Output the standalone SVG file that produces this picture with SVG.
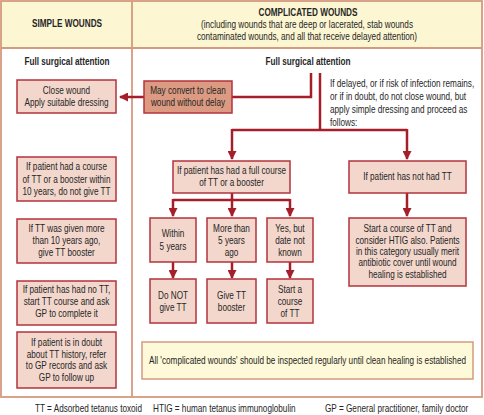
<svg xmlns="http://www.w3.org/2000/svg" width="484" height="415" viewBox="0 0 484 415">
<defs>
<marker id="ah" markerUnits="userSpaceOnUse" markerWidth="9" markerHeight="9" refX="8" refY="4.5" orient="auto">
<path d="M0,0 L9,4.5 L0,9 z" fill="#a51f2b"/>
</marker>
<style>
text{font-family:"Liberation Sans",Arial,sans-serif;font-size:10px;fill:#262626;text-anchor:middle}
.b{font-weight:bold}
.l{text-anchor:start}
.box{fill:#f3d7cc;stroke:#b3333d;stroke-width:1.5}
.dark{fill:#dc9a82;stroke:#b3333d;stroke-width:1.5}
.frame{fill:none;stroke:#d49a7e;stroke-width:1.8}
.note{fill:#fef9d8;stroke:#d49a7e;stroke-width:1.5}
.c{fill:none;stroke:#a51f2b;stroke-width:2.5}
</style>
</defs>
<rect x="0" y="0" width="484" height="415" fill="#fff"/>
<g id="frame">
<rect x="1" y="1" width="481" height="47" fill="#fcf6d2"/>
<rect class="frame" x="1" y="1" width="481" height="396"/>
<line class="frame" x1="1" y1="48" x2="482" y2="48"/>
<line class="frame" x1="132" y1="1" x2="132" y2="397"/>
</g>
<g id="header-simple"><text class="b" transform="translate(67 27) scale(.82 1)">SIMPLE WOUNDS</text></g>
<g id="header-complicated">
<text class="b" transform="translate(308 16) scale(.82 1)">COMPLICATED WOUNDS</text>
<text transform="translate(307 28) scale(.82 1)">(including wounds that are deep or lacerated, stab wounds</text>
<text transform="translate(307 40) scale(.82 1)">contaminated wounds, and all that receive delayed attention)</text>
</g>
<g id="connectors">
<path class="c" d="M311,73 V97 H120" marker-end="url(#ah)"/>
<path class="c" d="M320,73 V130"/>
<path class="c" d="M232,130 H407"/>
<path class="c" d="M232,129 V159" marker-end="url(#ah)"/>
<path class="c" d="M407,129 V159" marker-end="url(#ah)"/>
<path class="c" d="M232,193 V200"/>
<path class="c" d="M173,200 H290"/>
<path class="c" d="M173,199 V216" marker-end="url(#ah)"/>
<path class="c" d="M232,199 V216" marker-end="url(#ah)"/>
<path class="c" d="M290,199 V216" marker-end="url(#ah)"/>
<path class="c" d="M173,262 V278" marker-end="url(#ah)"/>
<path class="c" d="M232,262 V278" marker-end="url(#ah)"/>
<path class="c" d="M290,262 V278" marker-end="url(#ah)"/>
<path class="c" d="M407,193 V216" marker-end="url(#ah)"/>
</g>
<g id="simple-full"><text class="b" transform="translate(67 65) scale(.82 1)">Full surgical attention</text></g>
<g id="close-wound">
<rect class="box" x="17" y="80" width="99" height="33"/>
<text transform="translate(66.5 94) scale(.82 1)">Close wound</text>
<text transform="translate(66.5 106) scale(.82 1)">Apply suitable dressing</text>
</g>
<g id="simple-1">
<rect class="box" x="17" y="157" width="99" height="44"/>
<text transform="translate(66.5 170) scale(.82 1)">If patient had a course</text>
<text transform="translate(66.5 183) scale(.82 1)">of TT or a booster within</text>
<text transform="translate(66.5 195) scale(.82 1)">10 years, do not give TT</text>
</g>
<g id="simple-2">
<rect class="box" x="17" y="219" width="99" height="44"/>
<text transform="translate(66.5 232) scale(.82 1)">If TT was given more</text>
<text transform="translate(66.5 244) scale(.82 1)">than 10 years ago,</text>
<text transform="translate(66.5 256) scale(.82 1)">give TT booster</text>
</g>
<g id="simple-3">
<rect class="box" x="17" y="281" width="99" height="44"/>
<text transform="translate(66.5 293) scale(.82 1)">If patient has had no TT,</text>
<text transform="translate(66.5 305) scale(.82 1)">start TT course and ask</text>
<text transform="translate(66.5 317) scale(.82 1)">GP to complete it</text>
</g>
<g id="simple-4">
<rect class="box" x="17" y="332" width="99" height="56"/>
<text transform="translate(66.5 346) scale(.82 1)">If patient is in doubt</text>
<text transform="translate(66.5 358) scale(.82 1)">about TT history, refer</text>
<text transform="translate(66.5 369) scale(.82 1)">to GP records and ask</text>
<text transform="translate(66.5 381) scale(.82 1)">GP to follow up</text>
</g>
<g id="comp-full"><text class="b" transform="translate(308 65) scale(.82 1)">Full surgical attention</text></g>
<g id="delayed-note">
<text class="l" transform="translate(330 87) scale(.82 1)">If delayed, or if risk of infection remains,</text>
<text class="l" transform="translate(330 100) scale(.82 1)">or if in doubt, do not close wound, but</text>
<text class="l" transform="translate(330 113) scale(.82 1)">apply simple dressing and proceed as</text>
<text class="l" transform="translate(330 126) scale(.82 1)">follows:</text>
</g>
<g id="may-convert">
<rect class="dark" x="144" y="81" width="88" height="32"/>
<text transform="translate(188 94) scale(.82 1)">May convert to clean</text>
<text transform="translate(188 106) scale(.82 1)">wound without delay</text>
</g>
<g id="full-course">
<rect class="box" x="173" y="161" width="117" height="32"/>
<text transform="translate(231.5 174) scale(.82 1)">If patient has had a full course</text>
<text transform="translate(231.5 186) scale(.82 1)">of TT or a booster</text>
</g>
<g id="not-had">
<rect class="box" x="349" y="161" width="117" height="32"/>
<text transform="translate(407.5 180) scale(.82 1)">If patient has not had TT</text>
</g>
<g id="within5">
<rect class="box" x="150" y="218" width="46" height="44"/>
<text transform="translate(173 237) scale(.82 1)">Within</text>
<text transform="translate(173 250) scale(.82 1)">5 years</text>
</g>
<g id="more5">
<rect class="box" x="207" y="218" width="49" height="44"/>
<text transform="translate(231.5 232) scale(.82 1)">More than</text>
<text transform="translate(231.5 244) scale(.82 1)">5 years</text>
<text transform="translate(231.5 256) scale(.82 1)">ago</text>
</g>
<g id="unknown">
<rect class="box" x="267" y="218" width="46" height="44"/>
<text transform="translate(290 232) scale(.82 1)">Yes, but</text>
<text transform="translate(290 244) scale(.82 1)">date not</text>
<text transform="translate(290 256) scale(.82 1)">known</text>
</g>
<g id="start-htig">
<rect class="box" x="349" y="218" width="117" height="68"/>
<text transform="translate(407.5 232) scale(.82 1)">Start a course of TT and</text>
<text transform="translate(407.5 244) scale(.82 1)">consider HTIG also. Patients</text>
<text transform="translate(407.5 255) scale(.82 1)">in this category usually merit</text>
<text transform="translate(407.5 266) scale(.82 1)">antibiotic cover until wound</text>
<text transform="translate(407.5 278) scale(.82 1)">healing is established</text>
</g>
<g id="do-not">
<rect class="box" x="150" y="279" width="46" height="44"/>
<text transform="translate(173 299) scale(.82 1)">Do NOT</text>
<text transform="translate(173 311) scale(.82 1)">give TT</text>
</g>
<g id="give-booster">
<rect class="box" x="207" y="279" width="49" height="44"/>
<text transform="translate(231.5 299) scale(.82 1)">Give TT</text>
<text transform="translate(231.5 311) scale(.82 1)">booster</text>
</g>
<g id="start-course">
<rect class="box" x="267" y="279" width="46" height="44"/>
<text transform="translate(290 293) scale(.82 1)">Start a</text>
<text transform="translate(290 305) scale(.82 1)">course</text>
<text transform="translate(290 317) scale(.82 1)">of TT</text>
</g>
<g id="inspect">
<rect class="note" x="142" y="342" width="331" height="37"/>
<text transform="translate(307.5 364) scale(.82 1)">All 'complicated wounds' should be inspected regularly until clean healing is established</text>
</g>
<g id="footer">
<text class="l" transform="translate(35 412) scale(.82 1)">TT = Adsorbed tetanus toxoid</text>
<text class="l" transform="translate(153 412) scale(.82 1)">HTIG = human tetanus immunoglobulin</text>
<text class="l" transform="translate(325 412) scale(.82 1)">GP = General practitioner, family doctor</text>
</g>
</svg>
